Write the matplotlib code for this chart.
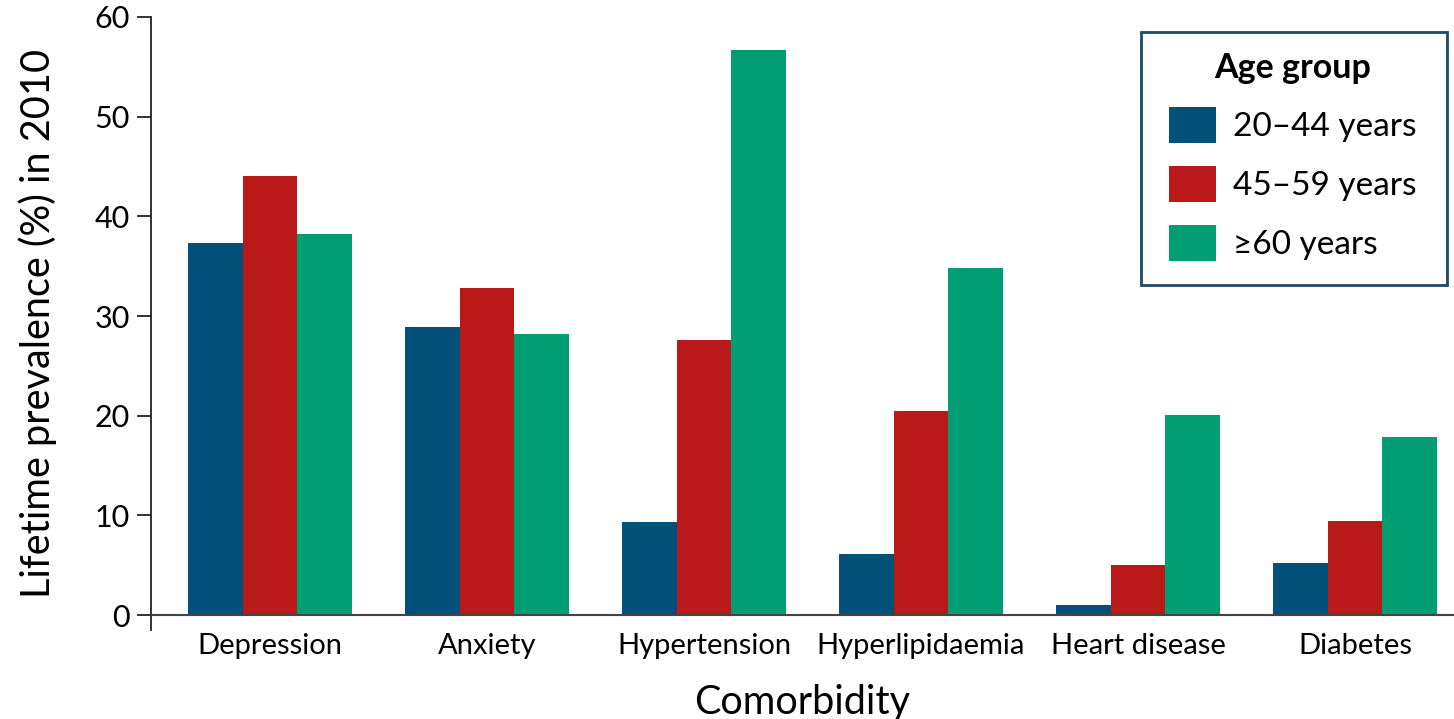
import matplotlib
matplotlib.use("Agg")
import matplotlib.pyplot as plt
from matplotlib.patches import Rectangle
import numpy as np

categories = ["Depression", "Anxiety", "Hypertension", "Hyperlipidaemia", "Heart disease", "Diabetes"]
age_groups = ["20\u201344 years", "45\u201359 years", "\u226560 years"]
vals_20_44 = [37.3, 28.9, 9.3, 6.1, 1.0, 5.2]
vals_45_59 = [44.0, 32.8, 27.6, 20.5, 5.0, 9.4]
vals_60_plus = [38.2, 28.2, 56.7, 34.8, 20.1, 17.9]
series = [vals_20_44, vals_45_59, vals_60_plus]
colors = ["#03507A", "#BA191A", "#029E73"]
yticks = [0, 10, 20, 30, 40, 50, 60]

plt.rcParams['font.family'] = ['Lato', 'DejaVu Sans']

W, H = 1454, 719
fig = plt.figure(figsize=(W / 100, H / 100), dpi=100)
ax = fig.add_axes([151/W, 1 - 630/H, 1 - 151/W, (630 - 17)/H])

x = np.arange(len(categories))
w = 0.252
for i, (vals, c, lab) in enumerate(zip(series, colors, age_groups)):
    ax.bar(x + (i - 1) * w, vals, width=w, color=c, label=lab, zorder=2)

ax.set_xlim(-0.548, 5.456)
ax.set_ylim(-1.5, 60)
ax.axhline(0, color="#444444", lw=1.5, zorder=3)
for s in ["top", "right", "bottom"]:
    ax.spines[s].set_visible(False)
ax.spines["left"].set_color("#222222")
ax.spines["left"].set_linewidth(1.3)
ax.set_yticks(yticks)
ax.set_yticklabels([str(t) for t in yticks], fontsize=22)
ax.tick_params(axis="y", length=10, width=1.3, color="#222222", pad=5)
ax.set_xticks(x)
ax.set_xticklabels(categories, fontsize=21)
ax.tick_params(axis="x", length=0, pad=2)
ax.set_ylabel("Lifetime prevalence (%) in 2010", fontsize=28.5, labelpad=27)
ax.set_xlabel("Comorbidity", fontsize=28.5, labelpad=18)

# legend frame drawn as a separate box
frame = Rectangle((1141/W, 1 - 285/H), (1447 - 1141)/W, (285 - 32)/H,
                  transform=fig.transFigure, facecolor="white", edgecolor="#1C4B68",
                  linewidth=2, zorder=4, clip_on=False)
ax.add_patch(frame)

leg = ax.legend(title="Age group", loc="upper left",
                bbox_to_anchor=(1169/W, 1 - 52/H), bbox_transform=fig.transFigure,
                borderaxespad=0, fontsize=24, title_fontproperties={"weight": "bold", "size": 24.5},
                handlelength=1.42, handleheight=1.27, handletextpad=0.5, labelspacing=0.7,
                borderpad=0, frameon=False)
leg.set_zorder(6)

fig.savefig("out.png", dpi=100)
